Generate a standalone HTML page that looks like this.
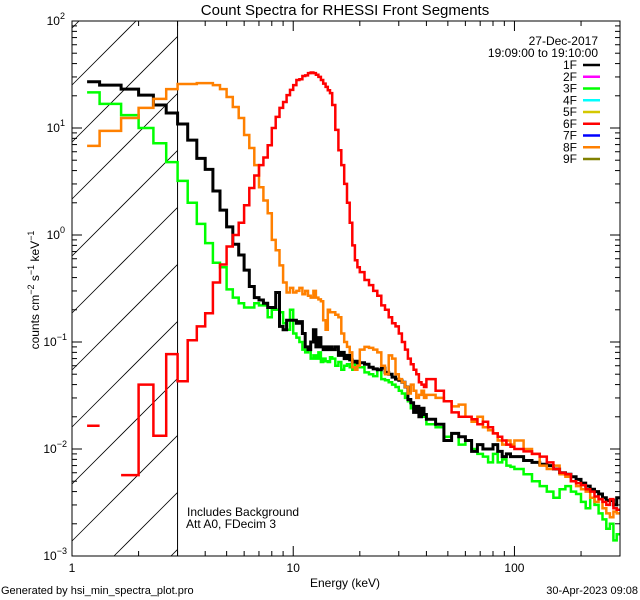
<!DOCTYPE html>
<html><head><meta charset="utf-8">
<style>
html,body{margin:0;padding:0;background:#fff;}
svg{display:block;font-family:"Liberation Sans",sans-serif;}
</style></head>
<body>
<svg id="chart" width="640" height="600" viewBox="0 0 640 600" xmlns="http://www.w3.org/2000/svg">
<rect width="640" height="600" fill="#fff"/>
<text x="345" y="15" text-anchor="middle" font-size="15">Count Spectra for RHESSI Front Segments</text>
<g id="hatch"></g>
<g id="series"></g>
<g id="axes"></g>
<g id="legend"></g>
<text transform="translate(39,290) rotate(-90)" text-anchor="middle" font-size="12">counts cm<tspan dy="-5" font-size="9">−2</tspan><tspan dy="5"> s</tspan><tspan dy="-5" font-size="9">−1</tspan><tspan dy="5"> keV</tspan><tspan dy="-5" font-size="9">−1</tspan></text>
<text x="345" y="587" text-anchor="middle" font-size="12">Energy (keV)</text>
<text x="187" y="516" font-size="12">Includes Background</text>
<text x="186" y="528" font-size="12">Att A0, FDecim 3</text>
<text x="1" y="594" font-size="11">Generated by hsi_min_spectra_plot.pro</text>
<text x="638" y="594" text-anchor="end" font-size="11">30-Apr-2023 09:08</text>
</svg>
<script>
const edgeSegments = [[1,15,1/3],[15,20,0.5],[20,40,1],[40,100,4],[100,300,10]];
const firstEdge = 1.17;
const xTickLabels = ["1","10","100"];
const yTickExps = [-3,-2,-1,0,1,2];
const legendNames = ["1F","2F","3F","4F","5F","6F","7F","8F","9F"];
const legendColors = ["#000000","#ff00ff","#00ff00","#00ffff","#d4c800","#ff0000","#0000ff","#ff8000","#808000"];

const black = [27,25.2,23.1,20.3,16.4,13.8,10.9,7.7,5.2,4.1,2.58,1.71,1.19,0.82,0.65,0.47,0.33,0.26,0.247,0.23,0.21,0.21,0.29,0.14,0.13,0.16,0.16,0.16,
 0.15,0.155,0.12,0.09,0.085,0.1,0.13,0.09,0.11,0.09,0.085,0.09,0.085,0.09,
 0.085,0.09,0.075,0.08,0.07,0.075,0.068,0.065,0.066,0.064,
 0.064,0.062,0.058,0.056,0.055,0.057,0.052,0.05,0.047,0.045,0.044,0.042,0.038,0.029,0.027,0.022,0.025,0.02,0.024,0.021,
 0.019,0.017,0.012,0.014,0.013,0.012,0.0095,0.011,0.010,0.010,0.011,0.0095,0.0085,0.0090,0.0085,
 0.0085,0.0078,0.0075,0.0072,0.007,0.0065,0.006,0.0058,0.0055,0.0052,0.0048,0.0045,0.0042,0.0040,0.0038,0.0035,0.0033,0.0033,0.003,0.0035];
const green = [21.5,16.8,13.2,10,7.2,4.8,3.2,2.0,1.27,0.84,0.55,0.50,0.31,0.26,0.23,0.21,0.21,0.23,0.22,0.22,0.17,0.2,0.2,0.19,0.15,0.13,0.2,0.12,
 0.11,0.10,0.085,0.08,0.09,0.07,0.075,0.07,0.08,0.065,0.07,0.066,0.065,0.072,
 0.07,0.06,0.065,0.055,0.06,0.062,0.058,0.055,0.066,0.062,
 0.058,0.052,0.05,0.048,0.055,0.045,0.044,0.042,0.04,0.038,0.035,0.033,0.03,0.028,0.024,0.025,0.022,0.02,0.021,0.02,
 0.017,0.016,0.013,0.014,0.011,0.012,0.01,0.009,0.0085,0.0075,0.009,0.0075,0.008,0.007,0.0068,
 0.0065,0.0058,0.005,0.0045,0.004,0.0035,0.0042,0.0045,0.0040,0.0038,0.0032,0.0028,0.0035,0.0030,0.0025,0.0022,0.0018,0.0020,0.0014,0.0016];
const orange = [6.8,9.4,12.4,15.4,18.7,23.1,25.8,25.8,26.3,26.3,25.2,23.1,19.5,15.7,12.4,8.6,6.5,4.5,2.8,2.1,1.6,0.9,0.72,0.52,0.36,0.29,0.32,0.29,
 0.30,0.32,0.28,0.30,0.27,0.26,0.30,0.26,0.25,0.24,0.16,0.13,0.20,0.19,
 0.19,0.18,0.17,0.12,0.10,0.09,0.08,0.058,0.055,0.06,
 0.085,0.09,0.088,0.085,0.08,0.06,0.05,0.075,0.07,0.05,0.045,0.042,0.038,0.033,0.04,0.035,0.03,0.032,0.035,0.03,
 0.032,0.030,0.028,0.025,0.026,0.02,0.018,0.02,0.016,0.015,0.014,0.012,0.011,0.012,0.011,
 0.012,0.01,0.009,0.007,0.0065,0.007,0.0058,0.0055,0.005,0.0045,0.0042,0.004,0.0035,0.0032,0.0034,0.0028,0.0025,0.0023,0.0026,0.0025];
const red = [0.0165,null,0.0057,0.040,0.0133,0.077,0.043,0.104,0.14,0.186,0.36,0.53,0.78,1.0,1.3,1.9,2.75,3.6,4.5,5.3,6.9,10,12.7,15.4,17.5,20.3,22.7,25.2,
 28.1,28.5,30.6,31,32.6,33,32.6,31.4,30,28.1,26,24.2,22.5,21.2,
 16.4,9.6,6.2,4.5,3.0,2.0,1.3,0.8,0.58,0.5,
 0.45,0.38,0.34,0.3,0.27,0.22,0.2,0.17,0.15,0.14,0.12,0.1,0.085,0.07,0.062,0.055,0.05,0.042,0.04,0.038,
 0.045,0.035,0.028,0.022,0.02,0.02,0.019,0.017,0.018,0.016,0.014,0.013,0.012,0.011,0.0105,
 0.01,0.0095,0.009,0.0085,0.0075,0.0065,0.006,0.0058,0.005,0.0048,0.0046,0.0042,0.004,0.0036,0.0034,0.0032,0.003,0.0034,0.0028,0.0027];

const PL=72, PR=620, PT=21, PB=556;
const XMIN=1, XMAX=300, YMIN=1e-3, YMAX=100;
const NS="http://www.w3.org/2000/svg";
function xs(e){return PL+(PR-PL)*Math.log10(e/XMIN)/Math.log10(XMAX/XMIN);}
function ys(v){return PB-(PB-PT)*Math.log10(v/YMIN)/Math.log10(YMAX/YMIN);}
function mk(tag,attrs,parent){const el=document.createElementNS(NS,tag);for(const k in attrs)el.setAttribute(k,attrs[k]);parent.appendChild(el);return el;}

// bin edges
const edges=[];
edgeSegments.forEach(s=>{const n=Math.round((s[1]-s[0])/s[2]);for(let i=0;i<n;i++){edges.push(s[0]+i*s[2]);}});
edges.push(300);
edges[0]=firstEdge;

// hatch
const hatch=document.getElementById('hatch');
const x3=xs(3);
for(let k=-12;k<12;k++){
  const c=157+57*k; // y + x = c
  let pts=[];
  // intersect with rect [PL,x3]x[PT,PB]
  const cand=[[PL,c-PL],[x3,c-x3],[c-PT,PT],[c-PB,PB]];
  cand.forEach(p=>{if(p[0]>=PL-0.01&&p[0]<=x3+0.01&&p[1]>=PT-0.01&&p[1]<=PB+0.01)pts.push(p);});
  if(pts.length>=2){
    pts.sort((a,b)=>a[0]-b[0]);
    const l=mk('line',{x1:pts[0][0],y1:pts[0][1],x2:pts[pts.length-1][0],y2:pts[pts.length-1][1],stroke:'#000','stroke-width':0.8},hatch);
    
    
  }
}
const vl=mk('line',{x1:x3,y1:PT,x2:x3,y2:PB,stroke:'#000','stroke-width':1},hatch);



// series
const sg=document.getElementById('series');
function drawSeries(vals,color,name,w){
  let d='';let open=false;
  const n=Math.min(vals.length,edges.length-1);
  for(let i=0;i<n;i++){
    const v=vals[i];
    if(v==null||v<=0){open=false;continue;}
    const x0=xs(edges[i]).toFixed(1),x1=xs(edges[i+1]).toFixed(1),y=ys(v).toFixed(1);
    if(!open){d+='M'+x0+' '+y;open=true;}else{d+='V'+y;}
    d+='H'+x1;
  }
  const p=mk('path',{d:d,fill:'none',stroke:color,'stroke-width':w,'stroke-linejoin':'miter'},sg);
  
  
}
drawSeries(green,'#00ff00','series-3f',2.5);
drawSeries(black,'#000000','series-1f',3);
drawSeries(orange,'#ff8000','series-8f',2.5);
drawSeries(red,'#ff0000','series-6f',2.5);

// axes
const ax=document.getElementById('axes');
const fr=mk('rect',{x:PL,y:PT,width:PR-PL,height:PB-PT,fill:'none',stroke:'#000','stroke-width':1},ax);


for(let dec=0;dec<3;dec++){
  for(let m=1;m<10;m++){
    const e=m*Math.pow(10,dec); if(e>XMAX)break;
    const x=xs(e); const len=(m===1)?10:5;
    let t=mk('line',{x1:x,y1:PB,x2:x,y2:PB-len,stroke:'#000'},ax);
    
    
    t=mk('line',{x1:x,y1:PT,x2:x,y2:PT+len,stroke:'#000'},ax);
    
    
  }
  const lb=mk('text',{x:xs(Math.pow(10,dec)),y:572,'text-anchor':'middle','font-size':12},ax);
  lb.textContent=xTickLabels[dec];
  
  
}
yTickExps.forEach(ex=>{
  for(let m=1;m<10;m++){
    if(ex===2&&m>1)break;
    const y=ys(m*Math.pow(10,ex)); const len=(m===1)?10:5;
    let t=mk('line',{x1:PL,y1:y,x2:PL+len,y2:y,stroke:'#000'},ax);
    
    
    t=mk('line',{x1:PR,y1:y,x2:PR-len,y2:y,stroke:'#000'},ax);
    
    
  }
  const y=ys(Math.pow(10,ex));
  const lb=mk('text',{x:ex<0?67:65,y:y+4,'text-anchor':'end','font-size':12},ax);
  
  
  lb.innerHTML='10<tspan dy="-6" font-size="9">'+(ex<0?'−'+(-ex):ex)+'</tspan>';
});

// legend
const lg=document.getElementById('legend');
let t=mk('text',{x:598,y:45,'text-anchor':'end','font-size':12},lg);
t.textContent='27-Dec-2017';


t=mk('text',{x:598,y:57,'text-anchor':'end','font-size':12},lg);
t.textContent='19:09:00 to 19:10:00';


legendNames.forEach((nm,i)=>{
  const y=65+i*11.75;
  const tx=mk('text',{x:577,y:y+4,'text-anchor':'end','font-size':12},lg);
  tx.textContent=nm;
  
  
  const ln=mk('line',{x1:583,y1:y,x2:600,y2:y,stroke:legendColors[i],'stroke-width':2.5},lg);
  
  
});
</script>
</body></html>
